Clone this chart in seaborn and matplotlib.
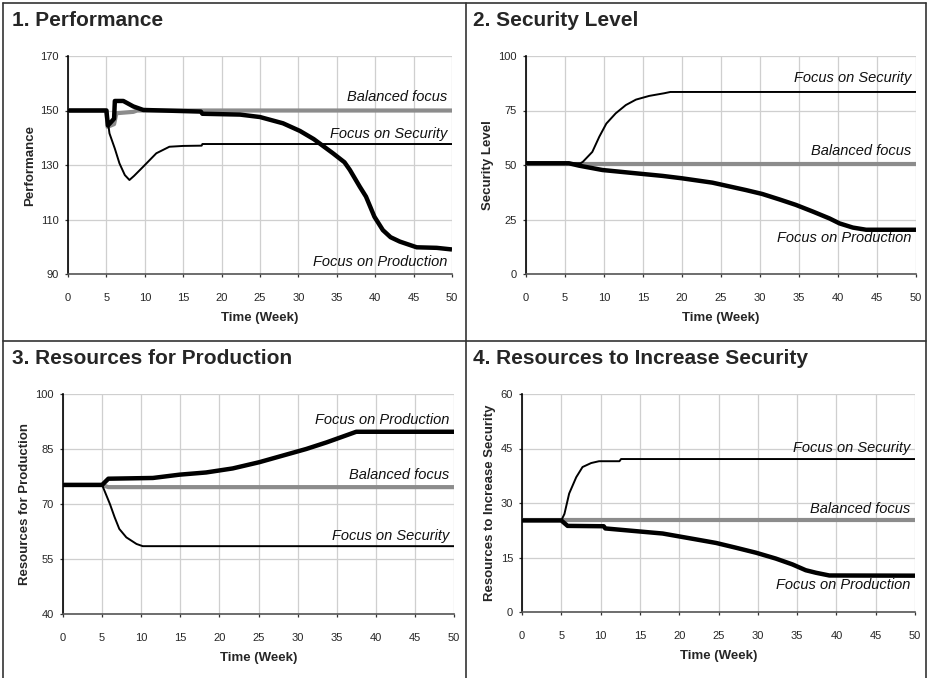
import matplotlib
matplotlib.use("Agg")
import matplotlib.pyplot as plt
import seaborn as sns
import pandas as pd
from matplotlib.lines import Line2D

sns.set_theme(style="white")
plt.rcParams["font.family"] = ["Liberation Sans", "DejaVu Sans"]

# ---- Panel 1: Performance ----
perf_bal_weeks = [0, 5, 5.15, 6.0, 6.3, 8.5, 9, 50]
perf_bal = [150, 150, 144, 145, 149, 149.5, 150, 150]
perf_sec_weeks = [0, 5, 5.4, 6.1, 6.7, 7.4, 8.0, 8.6, 9.8, 11.5, 13.2, 15, 17.4, 17.5, 50]
perf_sec = [150, 150, 141.6, 136, 130.6, 126.3, 124.5, 126, 129.4, 134.3, 136.7, 137, 137.1, 137.7, 137.7]
perf_prod_weeks = [0, 5, 5.2, 6.0, 6.1, 7.2, 8.5, 9.8, 17.3, 17.5, 22.4, 25, 28, 30.2, 32,
                   34.5, 36, 36.7, 38, 38.8, 39.9, 41, 42, 43.2, 45.4, 48, 50]
perf_prod = [150, 150, 144.5, 147, 153.5, 153.5, 151.5, 150.2, 149.6, 148.8, 148.5, 147.6, 145.3,
             142.5, 139.5, 134.3, 131, 128.2, 122, 118.4, 111, 106.1, 103.5, 101.9, 99.8, 99.6, 99]

# ---- Panel 2: Security Level ----
seclvl_bal_weeks = [0, 50]
seclvl_bal = [50.5, 50.5]
seclvl_sec_weeks = [0, 7, 7.3, 8.5, 9.4, 10.3, 11.5, 12.8, 14.1, 15.8, 17.7, 18.5, 50]
seclvl_sec = [50.8, 50.8, 51.5, 56, 63, 69, 73.7, 77.5, 80, 81.7, 82.9, 83.5, 83.5]
seclvl_prod_weeks = [0, 5.5, 6.8, 9.8, 13.2, 17.5, 20, 23.9, 28.2, 30.3, 32.5, 34.6, 36.8,
                     38.9, 40.2, 41.9, 43.6, 50]
seclvl_prod = [50.8, 50.8, 49.7, 47.7, 46.5, 45, 43.9, 41.9, 38.5, 36.7, 34.2, 31.7, 28.6,
               25.5, 23.2, 21.3, 20.3, 20.3]

# ---- Panel 3: Resources for Production ----
resprod_bal_weeks = [0, 5, 5.8, 50]
resprod_bal = [75.2, 75.2, 74.6, 74.6]
resprod_sec_weeks = [0, 5, 6, 6.6, 7.2, 8.1, 9.4, 10.2, 50]
resprod_sec = [75.2, 75.2, 70, 66.4, 63.2, 60.9, 59.1, 58.5, 58.5]
resprod_prod_weeks = [0, 5, 5.8, 11.5, 14.9, 18.3, 21.7, 25.1, 28.6, 31.1, 33.7, 35.8, 37.5, 50]
resprod_prod = [75.2, 75.2, 76.9, 77.1, 78, 78.6, 79.7, 81.4, 83.5, 85, 86.8, 88.4, 89.7, 89.7]

# ---- Panel 4: Resources to Increase Security ----
ressec_bal_weeks = [0, 50]
ressec_bal = [25.2, 25.2]
ressec_sec_weeks = [0, 5, 5.4, 6, 6.9, 7.7, 8.8, 9.8, 12.4, 12.6, 50]
ressec_sec = [25.2, 25.2, 27, 32.6, 37.1, 39.9, 41, 41.5, 41.5, 42.1, 42.1]
ressec_prod_weeks = [0, 5, 5.8, 10.4, 10.6, 13.2, 15.8, 17.9, 20, 22.1, 24.7, 27.2, 29.8,
                     32.3, 34.4, 36.1, 37.4, 39.1, 50]
ressec_prod = [25.2, 25.2, 23.7, 23.6, 23.0, 22.5, 22, 21.6, 20.8, 20, 19, 17.7, 16.3,
               14.7, 13.1, 11.5, 10.8, 10.05, 10]

x_ticks = list(range(0, 51, 5))

panels = [
    dict(title="1. Performance", ylabel="Performance", yticks=[90, 110, 130, 150, 170],
         bal=(perf_bal_weeks, perf_bal), sec=(perf_sec_weeks, perf_sec),
         prod=(perf_prod_weeks, perf_prod),
         labels=[("Balanced focus", 155.1), ("Focus on Security", 141.4),
                 ("Focus on Production", 94.5)],
         box=(68, 452, 56, 274), title_xy=(12, 20)),
    dict(title="2. Security Level", ylabel="Security Level", yticks=[0, 25, 50, 75, 100],
         bal=(seclvl_bal_weeks, seclvl_bal), sec=(seclvl_sec_weeks, seclvl_sec),
         prod=(seclvl_prod_weeks, seclvl_prod),
         labels=[("Focus on Security", 89.8), ("Balanced focus", 56.6),
                 ("Focus on Production", 16.4)],
         box=(526, 916, 56, 274), title_xy=(473, 20)),
    dict(title="3. Resources for Production", ylabel="Resources for Production",
         yticks=[40, 55, 70, 85, 100],
         bal=(resprod_bal_weeks, resprod_bal), sec=(resprod_sec_weeks, resprod_sec),
         prod=(resprod_prod_weeks, resprod_prod),
         labels=[("Focus on Production", 93.0), ("Balanced focus", 78.0),
                 ("Focus on Security", 61.4)],
         box=(63, 454, 394, 614), title_xy=(12, 358)),
    dict(title="4. Resources to Increase Security", ylabel="Resources to Increase Security",
         yticks=[0, 15, 30, 45, 60],
         bal=(ressec_bal_weeks, ressec_bal), sec=(ressec_sec_weeks, ressec_sec),
         prod=(ressec_prod_weeks, ressec_prod),
         labels=[("Focus on Security", 45.2), ("Balanced focus", 28.4),
                 ("Focus on Production", 7.4)],
         box=(522, 915, 394, 612), title_xy=(473, 358)),
]

W, H = 927, 678
fig = plt.figure(figsize=(W / 100, H / 100), dpi=100)

# frame lines dividing the four cells
frame_kw = dict(color="#333333", lw=1.2, transform=fig.transFigure)
def px(x, y):
    return x / W, 1 - y / H
for (x0, y0), (x1, y1) in [((3, 3), (926, 3)), ((3, 3), (3, 678)), ((926, 3), (926, 678)),
                           ((465.5, 3), (465.5, 678)), ((3, 341), (926, 341))]:
    a, b = px(x0, y0)
    c, d = px(x1, y1)
    fig.add_artist(Line2D([a, c], [b, d], **frame_kw))

grey = "#8c8c8c"
for p in panels:
    l, r, t, b = p["box"]
    ax = fig.add_axes([l / W, 1 - b / H, (r - l) / W, (b - t) / H])
    ax.set_facecolor("white")

    series = [("Balanced focus", p["bal"], grey, 3.0),
              ("Focus on Security", p["sec"], "black", 1.4),
              ("Focus on Production", p["prod"], "black", 3.2)]
    for name, (wk, vals), col, lw in series:
        df = pd.DataFrame({"week": wk, "value": vals})
        sns.lineplot(data=df, x="week", y="value", ax=ax, color=col, lw=lw,
                     estimator=None, sort=False, solid_capstyle="butt", zorder=3)

    for txt, yv in p["labels"]:
        ax.text(49.4, yv, txt, ha="right", va="center", fontsize=10.5,
                style="italic", color="#111111", zorder=4)

    ax.set_xlim(0, 50)
    ax.set_ylim(p["yticks"][0], p["yticks"][-1])
    ax.set_xticks(x_ticks)
    ax.set_yticks(p["yticks"])
    ax.grid(True, color="#cfcfcf", lw=0.9, zorder=0)
    ax.set_axisbelow(True)
    for s in ["top", "right"]:
        ax.spines[s].set_visible(False)
    ax.spines["left"].set_color("black")
    ax.spines["left"].set_linewidth(1.2)
    ax.spines["bottom"].set_color("#555555")
    ax.spines["bottom"].set_linewidth(1.2)
    ax.tick_params(axis="x", direction="out", length=2.5, width=0.9, pad=11.5,
                   labelsize=8, color="#333333", bottom=True)
    ax.tick_params(axis="y", direction="out", length=2.5, width=0.9, pad=4,
                   labelsize=8, color="#333333", left=True)
    ax.set_xlabel("Time (Week)", fontsize=9.5, fontweight="bold", labelpad=6)
    ax.set_ylabel(p["ylabel"], fontsize=9.5, fontweight="bold", labelpad=3)

    tx, ty = p["title_xy"]
    fig.text(tx / W, 1 - ty / H, p["title"], fontsize=15, fontweight="bold",
             ha="left", va="center")

fig.savefig("out.png", dpi=100)
